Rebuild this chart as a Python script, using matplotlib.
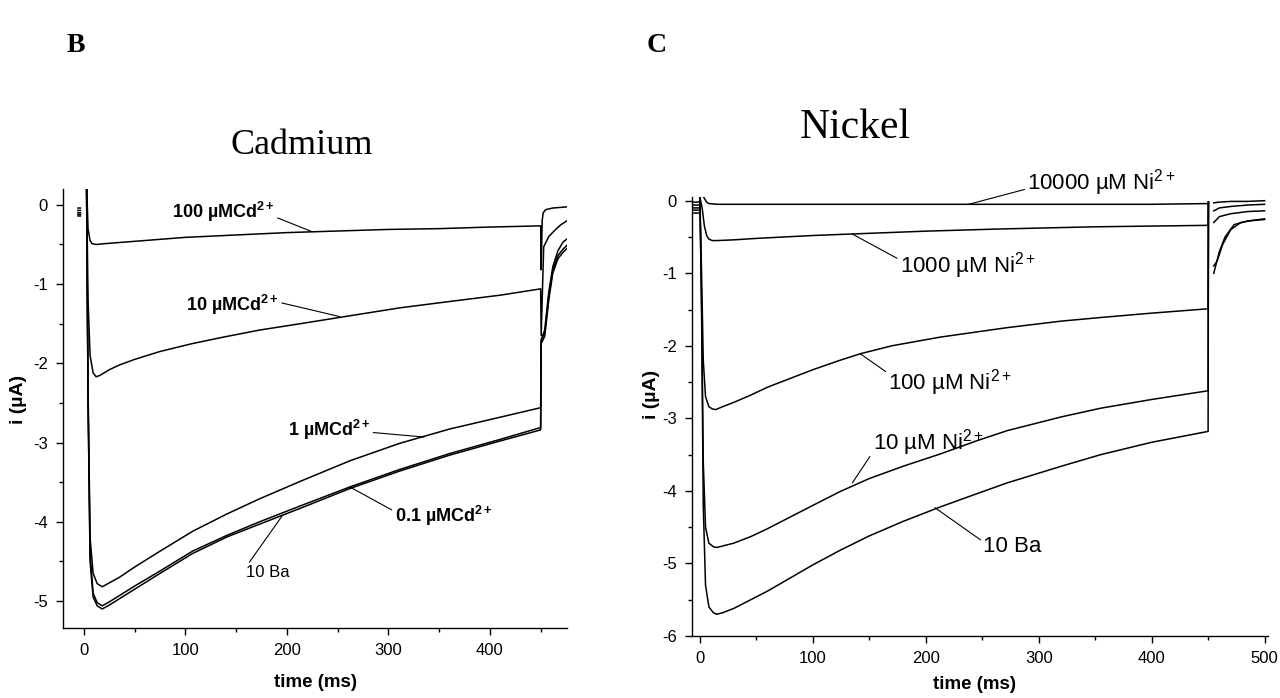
import numpy as np
import matplotlib
matplotlib.use("Agg")
import matplotlib.pyplot as plt
from matplotlib.ticker import MultipleLocator

plt.rcParams['font.family'] = ['Liberation Sans', 'DejaVu Sans']
plt.rcParams['axes.unicode_minus'] = False
plt.rcParams['mathtext.fontset'] = 'custom'
plt.rcParams['mathtext.rm'] = 'Liberation Sans'
plt.rcParams['mathtext.it'] = 'Liberation Sans:italic'
plt.rcParams['mathtext.bf'] = 'Liberation Sans:bold'

nan = np.nan

# ---- Cadmium block: time (ms) / current (uA) samples per trace ----
cd_ba_t = [-6, -3.5, nan, 2.5, 4, 6, 9, 13, 18, 25, 35, 50, 75, 107, 141, 173, 213, 262, 311, 360, 410, 450,
           450.5, 454, 458, 462, 467, 472, 476]
cd_ba_i = [-0.14, -0.14, nan, 0.3, -2.5, -4.5, -4.95, -5.06, -5.10, -5.05, -4.97, -4.85, -4.65, -4.40, -4.19,
           -4.03, -3.83, -3.58, -3.36, -3.16, -2.98, -2.84,
           -1.75, -1.66, -1.20, -0.86, -0.68, -0.60, -0.55]

cd_01_t = cd_ba_t
cd_01_i = [-0.12, -0.12, nan, 0.3, -2.4, -4.4, -4.90, -5.02, -5.06, -5.01, -4.93, -4.81, -4.62, -4.37, -4.17,
           -4.00, -3.80, -3.56, -3.34, -3.14, -2.96, -2.81,
           -1.72, -1.62, -1.15, -0.82, -0.64, -0.56, -0.51]

cd_1_t = cd_ba_t
cd_1_i = [-0.10, -0.10, nan, 0.3, -2.3, -4.2, -4.65, -4.78, -4.82, -4.77, -4.70, -4.57, -4.37, -4.12, -3.90,
          -3.71, -3.49, -3.23, -3.01, -2.83, -2.68, -2.56,
          -1.70, -1.58, -1.10, -0.78, -0.58, -0.47, -0.43]

cd_10_t = [-6, -3.5, nan, 2.5, 4, 6, 9, 12, 16, 25, 35, 50, 75, 107, 137, 173, 213, 262, 311, 360, 410, 450,
           450.5, 453, 458, 464, 470, 476]
cd_10_i = [-0.07, -0.07, nan, 0.3, -1.2, -1.9, -2.12, -2.17, -2.15, -2.08, -2.02, -1.95, -1.85, -1.75, -1.67,
           -1.58, -1.50, -1.40, -1.30, -1.22, -1.14, -1.06,
           -1.65, -0.53, -0.40, -0.32, -0.25, -0.20]

cd_100_t = [-6, -3.5, nan, 2.5, 4, 6, 8, 12, 20, 50, 100, 150, 200, 250, 300, 350, 400, 450,
            450.5, 451.5, 452.5, 455, 462, 476]
cd_100_i = [-0.04, -0.04, nan, 0.3, -0.30, -0.45, -0.49, -0.50, -0.49, -0.46, -0.41, -0.38, -0.35, -0.33,
            -0.31, -0.30, -0.28, -0.265,
            -0.82, -0.20, -0.10, -0.06, -0.04, -0.025]

# ---- Nickel block ----
ni_ba_t = [-7, -0.5, nan, 0, 1.5, 3, 5, 8, 12, 15, 20, 30, 45, 60, 80, 100, 124, 150, 180, 213, 245, 272,
           320, 355, 400, 450, 450.3, nan, 455, 458, 463, 470, 479, 490, 500]
ni_ba_i = [-0.17, -0.17, nan, 0.05, -1.5, -4.2, -5.3, -5.6, -5.68, -5.70, -5.68, -5.62, -5.50, -5.38, -5.20,
           -5.02, -4.82, -4.62, -4.42, -4.22, -4.04, -3.89, -3.66, -3.50, -3.33, -3.18, -0.02, nan,
           -0.90, -0.83, -0.60, -0.40, -0.30, -0.27, -0.25]

ni_10_t = [-7, -0.5, nan, 0, 1.5, 3, 5, 8, 12, 15, 20, 30, 45, 60, 80, 100, 124, 150, 180, 213, 245, 272,
           320, 355, 400, 450, 450.3, nan, 455, 460, 465, 473, 485, 500]
ni_10_i = [-0.13, -0.13, nan, 0.05, -1.4, -3.6, -4.5, -4.72, -4.77, -4.78, -4.76, -4.72, -4.63, -4.52, -4.36,
           -4.20, -4.01, -3.83, -3.66, -3.49, -3.31, -3.17, -2.98, -2.86, -2.74, -2.62, -0.02, nan,
           -1.00, -0.70, -0.50, -0.33, -0.28, -0.26]

ni_100_t = [-7, -0.5, nan, 0, 1.5, 3, 5, 8, 11, 14, 20, 30, 45, 60, 80, 100, 124, 142, 170, 213, 272,
            320, 355, 400, 450, 450.3, nan, 455, 460, 470, 485, 500]
ni_100_i = [-0.10, -0.10, nan, 0.05, -1.0, -2.2, -2.7, -2.84, -2.87, -2.88, -2.84, -2.78, -2.68, -2.57, -2.45,
            -2.33, -2.20, -2.11, -2.00, -1.88, -1.75, -1.66, -1.61, -1.55, -1.49, -0.02, nan,
            -0.30, -0.22, -0.18, -0.15, -0.14]

ni_1000_t = [-7, -0.5, nan, 0, 2, 4, 6, 8, 11, 15, 30, 50, 100, 150, 200, 266, 350, 400, 450, 450.3, nan,
             455, 460, 470, 485, 500]
ni_1000_i = [-0.06, -0.06, nan, 0.05, -0.10, -0.35, -0.48, -0.53, -0.55, -0.55, -0.54, -0.52, -0.48, -0.45,
             -0.42, -0.39, -0.36, -0.35, -0.34, -0.02, nan,
             -0.14, -0.10, -0.08, -0.06, -0.05]

ni_10000_t = [-7, -0.5, nan, 0, 1.5, 2.7, 4, 6, 8, 15, 30, 60, 100, 150, 200, 250, 300, 350, 400, 450, nan,
              455, 460, 470, 485, 500]
ni_10000_i = [-0.02, -0.02, nan, 0.04, 0.07, 0.07, 0.03, -0.02, -0.04, -0.05, -0.05, -0.05, -0.05, -0.05,
              -0.05, -0.05, -0.05, -0.05, -0.05, -0.04, nan,
              -0.03, -0.02, -0.01, -0.01, 0.0]

fig = plt.figure(figsize=(12.8, 6.98), dpi=100)
axB = fig.add_axes([0.0492, 0.1003, 0.3938, 0.6289])
axC = fig.add_axes([0.5406, 0.0888, 0.45, 0.6289])

lw = 1.1
for t, i in [(cd_ba_t, cd_ba_i), (cd_01_t, cd_01_i), (cd_1_t, cd_1_i), (cd_10_t, cd_10_i), (cd_100_t, cd_100_i)]:
    axB.plot(t, i, color='black', lw=lw)
for t, i in [(ni_ba_t, ni_ba_i), (ni_10_t, ni_10_i), (ni_100_t, ni_100_i), (ni_1000_t, ni_1000_i),
             (ni_10000_t, ni_10000_i)]:
    axC.plot(t, i, color='black', lw=lw)

axB.set_xlim(-20.7, 476)
axB.set_ylim(-5.34, 0.2)
axC.set_xlim(-7, 503)
axC.set_ylim(-6.0, 0.05)

for ax in (axB, axC):
    for s in ('top', 'right'):
        ax.spines[s].set_visible(False)
    for s in ('left', 'bottom'):
        ax.spines[s].set_linewidth(1.0)
    ax.xaxis.set_major_locator(MultipleLocator(100))
    ax.xaxis.set_minor_locator(MultipleLocator(50))
    ax.yaxis.set_major_locator(MultipleLocator(1))
    ax.yaxis.set_minor_locator(MultipleLocator(0.5))
    ax.tick_params(which='major', direction='out', length=5, width=1.0, labelsize=12, pad=6)
    ax.tick_params(which='minor', direction='out', length=3, width=1.0)
    ax.set_xlabel('time (ms)', fontsize=13.5, fontweight='bold')
    ax.set_ylabel('i (µA)', fontsize=14, fontweight='bold')

axB.xaxis.set_label_coords(0.5, -0.105)
axB.yaxis.set_label_coords(-0.072, 0.52)
axC.xaxis.set_label_coords(0.49, -0.092)
axC.yaxis.set_label_coords(-0.056, 0.55)

# leaders for the cadmium traces
cd_kw = dict(fontsize=13, fontweight='bold', va='center', ha='left')
line_kw = dict(arrowstyle='-', lw=0.8, color='black', shrinkA=0, shrinkB=0)
axB.annotate(r'100 µMCd$^{\mathbf{2+}}$', xy=(225, -0.34), xytext=(87, -0.09),
             arrowprops=dict(relpos=(1, 0.3), **line_kw), **cd_kw)
axB.annotate(r'10 µMCd$^{\mathbf{2+}}$', xy=(252, -1.41), xytext=(101, -1.26),
             arrowprops=dict(relpos=(1, 0.6), **line_kw), **cd_kw)
axB.annotate(r'1 µMCd$^{\mathbf{2+}}$', xy=(335, -2.93), xytext=(201, -2.84),
             arrowprops=dict(relpos=(1, 0.4), **line_kw), **cd_kw)
axB.annotate(r'0.1 µMCd$^{\mathbf{2+}}$', xy=(262, -3.56), xytext=(306, -3.93),
             arrowprops=dict(relpos=(0, 0.7), **line_kw), **cd_kw)
axB.annotate('10 Ba', xy=(195, -3.93), xytext=(160, -4.64), fontsize=12, va='center', ha='left',
             arrowprops=dict(relpos=(0, 0.9), **line_kw))

# leaders for the nickel traces
ni_kw = dict(fontsize=16, va='center', ha='left', annotation_clip=False)
axC.annotate(r'10000 µM Ni$^{2+}$', xy=(238, -0.05), xytext=(290, 0.25),
             arrowprops=dict(relpos=(0, 0.3), **line_kw), **ni_kw)
axC.annotate(r'1000 µM Ni$^{2+}$', xy=(135, -0.46), xytext=(177, -0.9),
             arrowprops=dict(relpos=(0, 0.7), **line_kw), **ni_kw)
axC.annotate(r'100 µM Ni$^{2+}$', xy=(142, -2.11), xytext=(167, -2.51),
             arrowprops=dict(relpos=(0, 0.8), **line_kw), **ni_kw)
axC.annotate(r'10 µM Ni$^{2+}$', xy=(135, -3.89), xytext=(153, -3.34),
             arrowprops=dict(relpos=(0, 0.2), **line_kw), **ni_kw)
axC.annotate('10 Ba', xy=(208, -4.23), xytext=(251, -4.76),
             arrowprops=dict(relpos=(0, 0.7), **line_kw), **ni_kw)

# panel titles and letters
fig.text(302 / 1280, 1 - 145 / 698, 'Cadmium', family='Liberation Serif', fontsize=26, ha='center', va='center')
fig.text(855 / 1280, 1 - 128 / 698, 'Nickel', family='Liberation Serif', fontsize=30, ha='center', va='center')
fig.text(76 / 1280, 1 - 45 / 698, 'B', family='Liberation Serif', fontsize=20, fontweight='bold',
         ha='center', va='center')
fig.text(657 / 1280, 1 - 45 / 698, 'C', family='Liberation Serif', fontsize=20, fontweight='bold',
         ha='center', va='center')

fig.savefig('out.png', dpi=100)
